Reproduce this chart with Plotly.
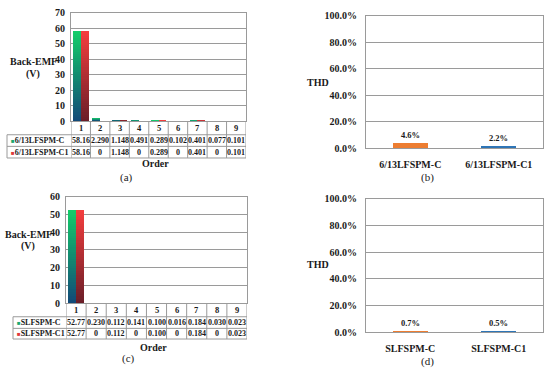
import plotly.graph_objects as go

# ---------------- data ----------------
orders = [1, 2, 3, 4, 5, 6, 7, 8, 9]
emf_a_C = [58.16, 2.290, 1.148, 0.491, 0.289, 0.102, 0.401, 0.077, 0.101]
emf_a_C1 = [58.16, 0, 1.148, 0, 0.289, 0, 0.401, 0, 0.101]
emf_c_C = [52.77, 0.230, 0.112, 0.141, 0.100, 0.016, 0.184, 0.030, 0.023]
emf_c_C1 = [52.77, 0, 0.112, 0, 0.100, 0, 0.184, 0, 0.023]
series_a = ["6/13LFSPM-C", "6/13LFSPM-C1"]
series_c = ["SLFSPM-C", "SLFSPM-C1"]
thd_b = [0.046, 0.022]
thd_d = [0.007, 0.005]

W, H = 550, 376
FONT = "Liberation Serif"
GRID = "#9a9a9a"
TEXT = "#1a1a1a"


def px(x):
    return x / W


def py(y):
    return 1 - y / H


def fmt(v):
    if v == 0:
        return "0"
    if v >= 10:
        return f"{v:.2f}"
    return f"{v:.3f}"


def lerp(c1, c2, f):
    return "rgb(%d,%d,%d)" % tuple(round(a + (b - a) * f) for a, b in zip(c1, c2))


def ann(x, y, text, size=10, bold=True, xref="paper", xanchor="center"):
    return dict(x=x, y=y, xref=xref, yref="paper", text=text, showarrow=False,
                xanchor=xanchor, yanchor="middle",
                font=dict(family=FONT, size=size, color=TEXT,
                          weight="bold" if bold else "normal"))


fig = go.Figure()
shapes = []
annotations = []

GREEN = ((20, 205, 105), (18, 72, 120))   # top, bottom
RED = ((245, 62, 62), (105, 30, 40))
LEG_COL = ["#1aa870", "#e03a3a"]

emf_panels = [
    dict(xa="x", ya="y", xdom=(71, 246), ydom=(7, 119), ymax=70,
         vals=(emf_a_C, emf_a_C1), names=series_a, tleft=7,
         rows=(119, 133, 145, 157), order_y=163, lab=("(a)", 126, 177),
         yt=(33, 57, 70), legx=9),
    dict(xa="x3", ya="y3", xdom=(66, 247), ydom=(197, 307), ymax=60,
         vals=(emf_c_C, emf_c_C1), names=series_c, tleft=13,
         rows=(307, 321, 333, 344), order_y=353, lab=("(c)", 128, 364),
         yt=(28, 236, 248), legx=15),
]

N = 40
for p in emf_panels:
    for vals, cols, off in zip(p["vals"], (GREEN, RED), (-0.4, 0.0)):
        for k in range(N):
            frac_h = (N - k) / N
            fpos = (N - k - 0.5) / N
            fig.add_trace(go.Bar(
                x=orders, y=[v * frac_h for v in vals],
                xaxis=p["xa"], yaxis=p["ya"],
                width=0.4, offset=off,
                marker=dict(color=lerp(cols[1], cols[0], fpos), line=dict(width=0)),
                showlegend=False, hoverinfo="skip",
            ))
    xr = p["xa"]
    r0, r1, r2, r3 = p["rows"]
    for yy in (r1, r2, r3):
        shapes.append(dict(type="line", xref="paper", yref="paper",
                           x0=px(p["tleft"]), x1=px(p["xdom"][1]),
                           y0=py(yy), y1=py(yy), line=dict(color=GRID, width=1)))
    shapes.append(dict(type="line", xref="paper", yref="paper",
                       x0=px(p["tleft"]), x1=px(p["tleft"]), y0=py(r1), y1=py(r3),
                       line=dict(color=GRID, width=1)))
    for i in range(len(orders) + 1):
        shapes.append(dict(type="line", xref=xr, yref="paper",
                           x0=0.5 + i, x1=0.5 + i, y0=py(r0), y1=py(r3),
                           line=dict(color=GRID, width=1)))
    for o in orders:
        annotations.append(ann(o, py((r0 + r1) / 2), str(o), size=8.5, xref=xr))
    for vals, (ya_, yb_) in zip(p["vals"], ((r1, r2), (r2, r3))):
        for o, v in zip(orders, vals):
            annotations.append(ann(o, py((ya_ + yb_) / 2), fmt(v), size=8, xref=xr))
    for name, c, (ya_, yb_) in zip(p["names"], LEG_COL, ((r1, r2), (r2, r3))):
        annotations.append(ann(px(p["legx"]), py((ya_ + yb_) / 2),
                               f'<span style="color:{c};font-size:6px">■</span>{name}',
                               size=8, xanchor="left"))
    annotations.append(ann(px((p["xdom"][0] + p["xdom"][1]) / 2 - 3), py(p["order_y"]), "Order"))
    annotations.append(ann(px(p["lab"][1]), py(p["lab"][2]), p["lab"][0], size=11, bold=False))
    annotations.append(ann(px(p["yt"][0]), py(p["yt"][1]), "Back-EMF"))
    annotations.append(ann(px(p["yt"][0]), py(p["yt"][2]), "(V)"))

# ---------------- THD panels ----------------
thd_panels = [
    dict(xa="x2", ya="y2", cats=series_a, vals=thd_b, lab=("(b)", 427, 177), thd_y=79),
    dict(xa="x4", ya="y4", cats=series_c, vals=thd_d, lab=("(d)", 427, 367), thd_y=267),
]
for p in thd_panels:
    fig.add_trace(go.Bar(
        x=p["cats"], y=p["vals"], xaxis=p["xa"], yaxis=p["ya"], width=0.4,
        marker=dict(color=["#ED7D31", "#2E75B6"], line=dict(width=0)),
        texttemplate="%{y:.1%}", textposition="outside", cliponaxis=False,
        textfont=dict(family=FONT, size=8.5, color=TEXT, weight="bold"),
        showlegend=False, hoverinfo="skip",
    ))
    annotations.append(ann(px(p["lab"][1]), py(p["lab"][2]), p["lab"][0], size=11, bold=False))
    annotations.append(ann(px(318), py(p["thd_y"]), "THD"))

tickfont = dict(family=FONT, size=10, color=TEXT, weight="bold")
common_y = dict(showgrid=True, gridcolor=GRID, gridwidth=1, showline=True, linecolor=GRID,
                mirror=True, ticks="", tickfont=tickfont, zeroline=False, fixedrange=True)
common_x = dict(showline=True, linecolor=GRID, mirror=True, ticks="", fixedrange=True,
                showgrid=False, zeroline=False)

fig.update_layout(
    width=W, height=H, autosize=False,
    margin=dict(l=0, r=0, t=0, b=0),
    paper_bgcolor="white", plot_bgcolor="white",
    barmode="overlay", bargap=0,
    font=dict(family=FONT, color=TEXT),
    xaxis=dict(domain=[px(71), px(246)], range=[0.5, 9.5], showticklabels=False,
               anchor="y", **common_x),
    yaxis=dict(domain=[py(119), py(7)], range=[0, 70], dtick=10, anchor="x",
               ticklabelstandoff=3, **common_y),
    xaxis3=dict(domain=[px(66), px(247)], range=[0.5, 9.5], showticklabels=False,
                anchor="y3", **common_x),
    yaxis3=dict(domain=[py(307), py(197)], range=[0, 60], dtick=10, anchor="x3",
                ticklabelstandoff=3, **common_y),
    xaxis2=dict(domain=[px(366), px(543)], anchor="y2", tickfont=tickfont,
                ticklabelstandoff=7, **common_x),
    yaxis2=dict(domain=[py(147), py(10)], range=[0, 1], dtick=0.2, tickformat=".1%",
                anchor="x2", ticklabelstandoff=6, **common_y),
    xaxis4=dict(domain=[px(366), px(543)], anchor="y4", tickfont=tickfont,
                ticklabelstandoff=7, **common_x),
    yaxis4=dict(domain=[py(337), py(199)], range=[0, 1], dtick=0.2, tickformat=".1%",
                anchor="x4", ticklabelstandoff=6, **common_y),
    shapes=shapes,
    annotations=annotations,
)

fig.write_html("out.html", config={"displayModeBar": False},
               post_script="document.body.style.margin='0';document.body.style.overflow='hidden';")
